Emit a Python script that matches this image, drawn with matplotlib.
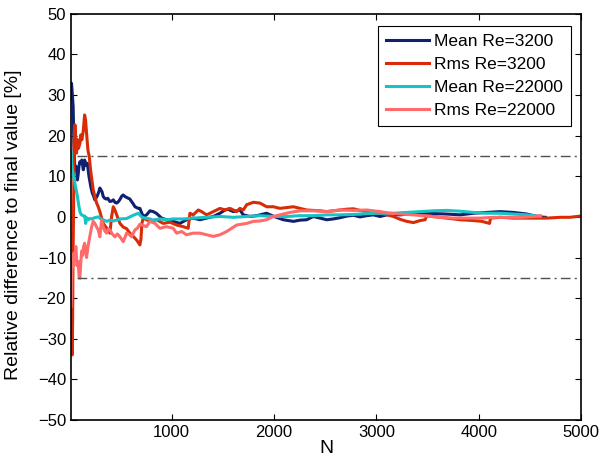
import matplotlib
matplotlib.use('Agg')
import matplotlib.pyplot as plt

plt.rcParams['font.family'] = ['Liberation Sans', 'DejaVu Sans']

# --- data (N, relative difference in %) ---
mean3200_n = [20, 22, 29, 38, 45, 55, 63, 71, 80, 87, 95, 104, 113, 122, 130, 137, 143, 150, 156,
              163, 169, 177, 185, 193, 201, 210, 218, 226, 234, 242, 250, 260, 270, 280, 290, 299,
              310, 320, 332, 345, 360, 375, 397, 415, 430, 446, 462, 478, 495, 512, 527, 545, 560,
              576, 592, 608, 625, 642, 658, 675, 690, 707, 723, 755, 788, 820, 850, 902, 950, 1016,
              1080, 1146, 1211, 1276, 1340, 1407, 1472, 1521, 1550, 1602, 1667, 1700, 1765, 1830,
              1928, 2000, 2091, 2189, 2254, 2319, 2384, 2450, 2515, 2580, 2645, 2710, 2775, 2840,
              2906, 2970, 3036, 3134, 3232, 3362, 3492, 3688, 3818, 3948, 4079, 4209, 4339, 4470,
              4535, 4600, 4650]
mean3200_v = [32.5, 32.9, 30.5, 27.2, 18.0, 11.6, 12.5, 11.9, 9.1, 10.5, 12.5, 13.6, 13.2, 14.0,
              12.8, 11.6, 12.5, 14.0, 13.5, 12.7, 12.9, 13.2, 11.5, 9.9, 8.8, 7.5, 6.6, 5.8, 5.4,
              4.8, 4.2, 4.6, 5.0, 5.6, 6.3, 7.1, 6.6, 6.2, 5.0, 4.6, 4.4, 4.6, 3.8, 3.9, 4.2, 3.6,
              3.4, 3.7, 4.3, 5.1, 5.4, 5.0, 4.8, 4.6, 4.4, 3.8, 3.2, 2.5, 2.3, 2.1, 2.1, 1.0, 0.1,
              0.5, 1.5, 1.3, 0.9, -0.3, -0.7, -1.1, -1.6, -0.7, -0.3, -0.7, -0.3, 0.1, 0.9, 1.7,
              1.9, 1.3, 1.7, 0.5, 0.1, 0.3, 0.9, 0.1, -0.7, -1.1, -0.8, -0.7, 0.1, -0.3, -0.7,
              -0.5, -0.2, 0.2, 0.4, 0.0, 0.3, 0.5, 0.1, 0.7, 0.5, 0.9, 0.9, 0.7, 0.5, 0.9, 1.1,
              1.3, 1.1, 0.7, 0.3, 0.0, -0.1]

rms3200_n = [20, 22, 25, 29, 33, 36, 42, 48, 55, 64, 71, 81, 90, 104, 113, 123, 136, 150, 159, 169,
             182, 195, 208, 221, 234, 250, 267, 283, 299, 316, 332, 358, 381, 397, 413, 430, 446,
             469, 495, 527, 560, 592, 625, 658, 690, 700, 710, 723, 788, 853, 918, 983, 1048, 1113,
             1162, 1172, 1179, 1211, 1260, 1293, 1342, 1407, 1472, 1521, 1570, 1635, 1667, 1700,
             1733, 1798, 1863, 1928, 1993, 2058, 2124, 2189, 2254, 2319, 2450, 2515, 2645, 2710,
             2775, 2840, 2906, 2970, 3036, 3101, 3166, 3232, 3297, 3362, 3427, 3476, 3492, 3557,
             3688, 3818, 3948, 4030, 4105, 4115, 4209, 4339, 4500, 4665, 4795, 4890, 4991, 5000]
rms3200_v = [-20.0, -21.3, -27.0, -34.0, -25.0, -12.0, 1.7, 18.2, 22.7, 19.0, 15.7, 19.0, 16.9,
             18.1, 20.2, 19.0, 21.0, 25.1, 23.9, 20.6, 16.5, 14.9, 11.6, 9.1, 6.7, 5.0, 3.4, 2.5,
             1.3, -0.3, -1.6, -2.5, -3.2, -4.0, 0.0, 2.5, 1.7, 0.1, -1.6, -2.5, -2.9, -4.0, -4.8,
             -5.7, -6.9, -5.5, -1.5, -0.3, -1.1, -0.7, -1.6, -1.3, -2.0, -2.4, -2.8, -0.5, 0.9,
             0.5, 1.7, 1.3, 0.5, 1.3, 2.1, 1.7, 2.1, 1.3, 2.1, 1.7, 3.0, 3.6, 3.4, 2.5, 2.5, 2.1,
             2.3, 2.5, 2.1, 1.7, 1.5, 1.3, 1.7, 1.9, 2.0, 1.6, 1.3, 1.1, 0.9, 0.5, 0.1, -0.6,
             -1.1, -1.4, -0.9, -0.7, 0.3, 0.1, -0.3, -0.7, -0.9, -1.1, -1.6, -0.3, -0.1, -0.3,
             -0.3, -0.3, -0.1, -0.1, 0.2, 0.1]

mean22000_n = [20, 24, 30, 38, 46, 55, 63, 71, 80, 87, 95, 104, 112, 120, 136, 152, 160, 170, 185,
               200, 218, 250, 283, 310, 332, 365, 397, 430, 462, 500, 560, 625, 674, 707, 740, 788,
               818, 885, 951, 1016, 1113, 1211, 1342, 1472, 1602, 1733, 1863, 1993, 2124, 2254,
               2384, 2515, 2645, 2775, 2906, 3036, 3166, 3297, 3427, 3557, 3688, 3818, 3948, 4079,
               4209, 4339, 4470, 4600]
mean22000_v = [16.0, 13.0, 11.6, 10.6, 9.5, 8.3, 7.2, 6.2, 5.0, 3.8, 2.5, 1.3, 0.8, 0.5, 0.3, 0.2,
               -1.6, -0.2, -0.7, -0.4, -0.5, -0.2, 0.0, -0.5, -0.7, -1.1, -0.8, -1.0, -0.8, -0.5,
               -0.4, 0.4, 0.9, 0.0, -0.3, -0.5, -0.8, -0.5, -0.7, -0.5, -0.5, -0.3, -0.1, 0.1,
               -0.1, 0.1, 0.3, 0.1, 0.1, 0.3, 0.3, 0.5, 0.5, 0.6, 0.8, 0.9, 0.9, 1.1, 1.3, 1.5,
               1.6, 1.4, 1.1, 0.9, 0.9, 0.7, 0.5, 0.1]

rms22000_n = [18, 22, 26, 30, 38, 46, 55, 64, 75, 87, 96, 104, 113, 122, 130, 140, 150, 160, 169,
              185, 201, 218, 234, 250, 267, 283, 299, 316, 332, 348, 365, 381, 397, 420, 446, 470,
              495, 527, 545, 560, 590, 609, 641, 665, 690, 755, 788, 837, 885, 951, 1016, 1048,
              1097, 1146, 1211, 1276, 1342, 1407, 1472, 1537, 1586, 1635, 1733, 1798, 1863, 1928,
              1993, 2058, 2156, 2254, 2384, 2515, 2645, 2775, 2906, 3036, 3134, 3232, 3362, 3492,
              3622, 3753, 3883, 4013, 4144, 4274, 4404, 4535, 4600]
rms22000_v = [-22.0, -19.6, -14.0, -10.6, -12.2, -8.9, -10.5, -7.3, -12.0, -11.0, -14.7, -15.1,
              -11.0, -8.4, -9.5, -7.3, -6.5, -8.5, -10.0, -7.0, -4.8, -2.5, -1.1, -1.6, -2.5,
              -3.2, -4.9, -0.7, -2.5, -3.5, -4.0, -3.0, -3.2, -4.2, -4.9, -4.2, -4.9, -6.1,
              -5.0, -4.0, -4.4, -4.9, -3.2, -2.8, -1.8, -2.4, -1.1, -1.6, -2.8, -2.4, -2.8, -4.0,
              -3.6, -4.4, -4.0, -4.0, -4.4, -4.8, -4.4, -3.6, -2.8, -2.0, -1.6, -1.1, -1.0, -0.7,
              0.1, 0.5, 1.1, 1.5, 1.5, 1.3, 1.7, 1.6, 1.7, 1.3, 0.9, 0.7, 0.5, 0.2, -0.1, -0.3,
              -0.3, -0.3, -0.1, -0.1, -0.1, 0.1, 0.3]

series_labels = ['Mean Re=3200', 'Rms Re=3200', 'Mean Re=22000', 'Rms Re=22000']
series_colors = ['#0f2170', '#d82c06', '#17c3c3', '#ff6b6b']
band = 15  # dash-dot tolerance band, %
band_start = 75

fig = plt.figure(figsize=(6.06, 4.61), dpi=100)
ax = fig.add_axes([0.117, 0.089, 0.842, 0.881])

ax.plot(mean3200_n, mean3200_v, color=series_colors[0], lw=2.2, label=series_labels[0])
ax.plot(rms3200_n, rms3200_v, color=series_colors[1], lw=2.2, label=series_labels[1])
ax.plot(mean22000_n, mean22000_v, color=series_colors[2], lw=2.2, label=series_labels[2])
ax.plot(rms22000_n, rms22000_v, color=series_colors[3], lw=2.2, label=series_labels[3])

for b in (band, -band):
    ax.plot([band_start, 5000], [b, b], color='#505050', lw=1, linestyle=(0, (7, 3, 1.5, 3)))

ax.set_xlim(16, 5000)
ax.set_ylim(-50, 50)
ax.set_xticks([1000, 2000, 3000, 4000, 5000])
ax.set_yticks(range(-50, 51, 10))
ax.tick_params(direction='in', top=True, right=True, length=4, labelsize=12, width=0.8)
for s in ax.spines.values():
    s.set_linewidth(1.2)

ax.set_xlabel('N', fontsize=14, labelpad=0)
ax.set_ylabel('Relative difference to final value [%]', fontsize=14)
ax.yaxis.set_label_coords(-0.095, 0.48)

leg = ax.legend(loc='upper right', bbox_to_anchor=(0.98, 0.97), borderaxespad=0, fontsize=12.5,
                fancybox=False, framealpha=1, edgecolor='black', handlelength=2.5,
                handletextpad=0.3, labelspacing=0.45, borderpad=0.45)
leg.get_frame().set_linewidth(0.8)

fig.savefig('out.png', dpi=100)
